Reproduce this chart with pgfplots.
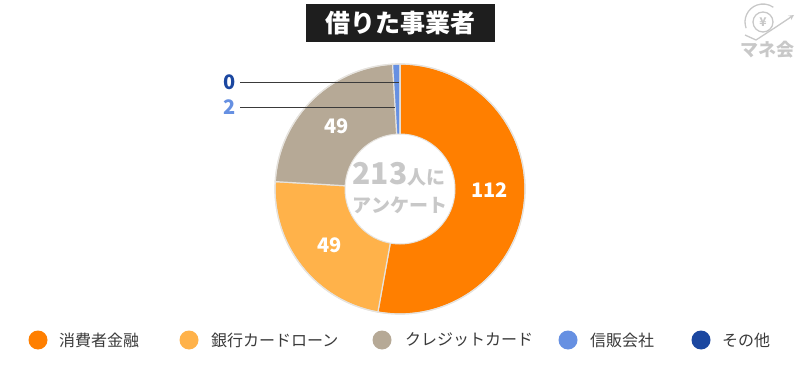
\documentclass[border=0pt]{standalone}
\usepackage{pgfplots}
\pgfplotsset{compat=1.18}
\usepackage{pgfplotstable}
\usetikzlibrary{calc}
\usepackage{fontspec}
\setmainfont{Noto Sans CJK JP}
\definecolor{cOr}{HTML}{FF7F00}
\definecolor{cLo}{HTML}{FFB24A}
\definecolor{cTan}{HTML}{B6A996}
\definecolor{cBl}{HTML}{6690E2}
\definecolor{cDb}{HTML}{1B47A0}
\definecolor{cSep}{HTML}{E6E3DE}
\definecolor{cGray}{HTML}{C8C8C8}
\definecolor{cTxt}{HTML}{3A3A3A}
\definecolor{cTitle}{HTML}{1E1E1E}

\pgfplotstableread[col sep=comma]{
label,value,col,legx,textx,labdy
消費者金融,112,cOr,38,59,-7
銀行カードローン,49,cLo,189,211,1
クレジットカード,49,cTan,382,405,1
信販会社,2,cBl,568,590,0
その他,0,cDb,701,722,0
}\data

\begin{document}
\begin{tikzpicture}
\begin{axis}[x=1pt,y=1pt,xmin=0,xmax=800,ymin=0,ymax=390,y dir=reverse,
  hide axis,clip=false,scale only axis]
\pgfplotsextra{
  \path (axis cs:0,0) (axis cs:800,390);
  % total
  \gdef\total{0}
  \foreach \i in {0,...,4}{
    \pgfplotstablegetelem{\i}{value}\of\data
    \pgfmathsetmacro\tmpsum{\total+\pgfplotsretval}
    \xdef\total{\tmpsum}
  }
  % slices (frame is flipped: -90 is up, increasing angle runs clockwise)
  \gdef\angA{-90}
  \foreach \i in {0,...,4}{
    \pgfplotstablegetelem{\i}{value}\of\data \let\v\pgfplotsretval
    \pgfplotstablegetelem{\i}{col}\of\data \let\slc\pgfplotsretval
    \pgfplotstablegetelem{\i}{labdy}\of\data \let\ldy\pgfplotsretval
    \pgfmathsetmacro\angB{\angA+360*(\v/\total)}
    \pgfmathsetmacro\angM{(\angA+\angB)/2}
    \fill[fill=\slc,draw=cSep,line width=1.2pt] (axis cs:400,189) -- ++(\angA:125)
      arc[start angle=\angA,end angle=\angB,radius=125] -- cycle;
    \pgfmathparse{\v>10?1:0}
    \ifnum\pgfmathresult=1
      \node[text=white,font=\bfseries\fontsize{20}{20}\selectfont] at ($(axis cs:400,189+\ldy)+(\angM:90)$) {\v};
    \fi
    \xdef\angA{\angB}
  }
  \draw[cSep,line width=1.2pt] (axis cs:400,189) circle[radius=125];
  \fill[white,draw=cSep,line width=1pt] (axis cs:400,189) circle[radius=55];
  % small labels
  \pgfplotstablegetelem{4}{value}\of\data
  \draw[cTxt,line width=0.8pt] (axis cs:240,82) -- (axis cs:399,82);
  \node[text=cDb,font=\bfseries\fontsize{20}{20}\selectfont] at (axis cs:230,82) {\pgfplotsretval};
  \pgfplotstablegetelem{3}{value}\of\data
  \draw[cTxt,line width=0.8pt] (axis cs:240,107) -- (axis cs:395,107);
  \node[text=cBl,font=\bfseries\fontsize{20}{20}\selectfont] at (axis cs:230,107) {\pgfplotsretval};
  % centre text
  \node[text=cGray,font=\bfseries] at (axis cs:399,174) {\fontsize{30}{30}\selectfont 213\fontsize{19}{19}\selectfont 人に};
  \node[text=cGray,font=\bfseries\fontsize{19}{19}\selectfont] at (axis cs:400,205) {アンケート};
  % title
  \fill[cTitle] (axis cs:306,4) rectangle (axis cs:495,42);
  \node[text=white,font=\bfseries\fontsize{25}{25}\selectfont] at (axis cs:400.5,23) {借りた事業者};
  % logo
  \draw[cGray,line width=1.3pt] (axis cs:763,22) circle[radius=10];
  \node[text=cGray,font=\bfseries\fontsize{12}{12}\selectfont] at (axis cs:763,22) {¥};
  \draw[cGray,line width=1.3pt] (axis cs:763,22) ++(-200:18) arc[start angle=-200,end angle=-55,radius=18];
  \draw[cGray,line width=1.3pt,-stealth] (axis cs:745,35) -- (axis cs:756,40) -- (axis cs:776,27) -- (axis cs:794,15);
  \node[text=cGray,font=\bfseries\fontsize{18}{18}\selectfont] at (axis cs:767,50) {マネ会};
  % legend
  \foreach \i in {0,...,4}{
    \pgfplotstablegetelem{\i}{col}\of\data \let\slc\pgfplotsretval
    \pgfplotstablegetelem{\i}{legx}\of\data \let\lx\pgfplotsretval
    \pgfplotstablegetelem{\i}{textx}\of\data \let\tx\pgfplotsretval
    \pgfplotstablegetelem{\i}{label}\of\data \let\lb\pgfplotsretval
    \fill[fill=\slc] (axis cs:\lx,340) circle[radius=9.5];
    \node[anchor=west,inner sep=0pt,text=cTxt,font=\fontsize{16}{16}\selectfont] at (axis cs:\tx,340) {\lb};
  }
}
\end{axis}
\end{tikzpicture}
\end{document}
